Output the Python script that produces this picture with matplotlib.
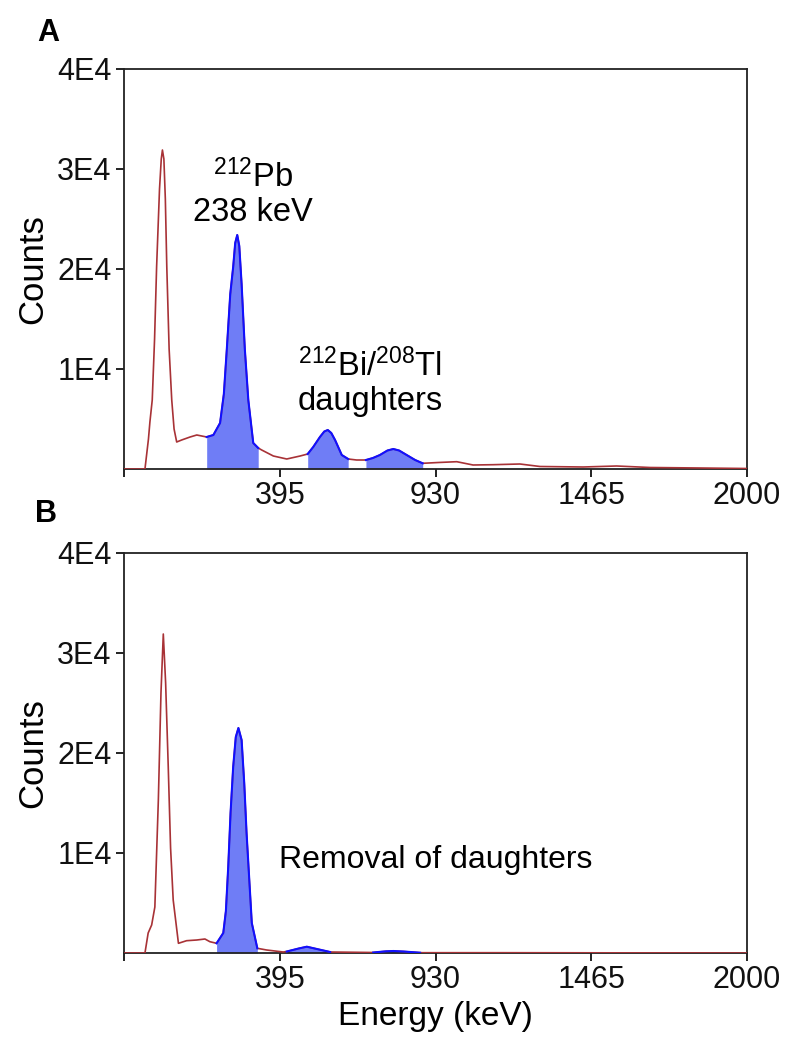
import numpy as np
import matplotlib
matplotlib.use("Agg")
import matplotlib.pyplot as plt

plt.rcParams['font.family'] = ['Liberation Sans', 'DejaVu Sans']
plt.rcParams['mathtext.default'] = 'regular'

# spectrum A (energy in keV, counts)
energy_a = [-140, -68, -56, -51, -43, -35, -28, -18, -12, -8, -3, 2, 7, 15,
            24, 32, 41, 58, 87, 110, 144, 167, 190, 203, 213, 225, 235, 242,
            249, 256, 264, 275, 287, 304, 321, 333, 373, 419, 465, 491, 510,
            533, 548, 560, 572, 585, 608, 630, 659, 691, 715, 739, 765, 785,
            805, 831, 860, 886, 940, 1003, 1059, 1128, 1220, 1289, 1437,
            1552, 1667, 1839, 2000]
counts_a = [0, 0, 3000, 4700, 6900, 13000, 20200, 28000, 31000, 31900,
            31000, 27000, 20200, 12000, 6900, 4000, 2700, 2900, 3200, 3400,
            3200, 3400, 4600, 7500, 11900, 17500, 20200, 22600, 23400, 22300,
            18500, 12000, 6900, 2600, 2100, 1900, 1300, 1000, 1300, 1500,
            2200, 3200, 3750, 3900, 3600, 2900, 1400, 1000, 900, 900, 1100,
            1400, 1850, 2000, 1850, 1400, 900, 570, 650, 730, 400, 430, 500,
            250, 200, 300, 150, 100, 50]
windows_a = [(144, 321), (491, 630), (691, 886)]

# spectrum B
energy_b = [-140, -68, -57, -45, -34, -22, -13, -5, 3, 12, 20, 29, 47, 75,
            110, 138, 155, 178, 201, 210, 218, 226, 235, 244, 253, 264, 273,
            281, 299, 318, 350, 407, 419, 460, 488, 515, 568, 716, 760, 785,
            820, 877, 1152, 2000]
counts_b = [0, 0, 2000, 2800, 4600, 15300, 26000, 31900, 27000, 18600, 10500,
            5300, 970, 1230, 1300, 1400, 1130, 970, 2000, 4200, 8600, 14000,
            18600, 21600, 22500, 21300, 17000, 12000, 3000, 470, 300, 100,
            150, 450, 630, 450, 100, 50, 170, 200, 150, 30, 30, 0]
windows_b = [(178, 318), (419, 568), (716, 877)]

xticks = [-140, 395, 930, 1465, 2000]
xticklabels = ['', '395', '930', '1465', '2000']
yticks = [10000, 20000, 30000, 40000]
yticklabels = ['1E4', '2E4', '3E4', '4E4']

red = '#a83236'
blue = '#1010ff'
fill = '#6f7df6'

fig = plt.figure(figsize=(7.99, 10.5), dpi=100)
ax_a = fig.add_axes([124/799, 1-469/1050, 623/799, 400/1050])
ax_b = fig.add_axes([124/799, 1-953/1050, 623/799, 400/1050])


def draw(ax, e, c, windows):
    e = np.array(e, dtype=float)
    c = np.array(c, dtype=float)
    ax.plot(e, c, color=red, lw=1.2, zorder=3)
    for lo, hi in windows:
        m = (e >= lo) & (e <= hi)
        ax.fill_between(e[m], 0, c[m], color=fill, lw=0, zorder=2)
        ax.plot(e[m], c[m], color=blue, lw=1.5, zorder=4)
    ax.set_xlim(-140, 2000)
    ax.set_ylim(0, 40000)
    ax.set_xticks(xticks)
    ax.set_xticklabels(xticklabels)
    ax.set_yticks(yticks)
    ax.set_yticklabels(yticklabels)
    ax.tick_params(direction='out', length=6, width=1.3, labelsize=22,
                   pad=3, colors='#111111')
    for s in ax.spines.values():
        s.set_linewidth(1.3)
        s.set_color('#222222')
    ax.set_ylabel('Counts', fontsize=25, labelpad=6)


draw(ax_a, energy_a, counts_a, windows_a)
draw(ax_b, energy_b, counts_b, windows_b)

ax_a.text(303, 27500, '$^{212}$Pb\n238 keV', fontsize=23.5, ha='center',
          va='center', linespacing=1.1)
ax_a.text(705, 8600, '$^{212}$Bi/$^{208}$Tl\ndaughters', fontsize=23.5,
          ha='center', va='center', linespacing=1.1)
ax_b.text(392, 9300, 'Removal of daughters', fontsize=23, ha='left',
          va='center')
ax_b.set_xlabel('Energy (keV)', fontsize=24, labelpad=4)

fig.text(48/799, 1-33/1050, 'A', fontsize=22, fontweight='bold',
         ha='center', va='center')
fig.text(46/799, 1-514/1050, 'B', fontsize=22, fontweight='bold',
         ha='center', va='center')

fig.savefig('out.png', dpi=100)
